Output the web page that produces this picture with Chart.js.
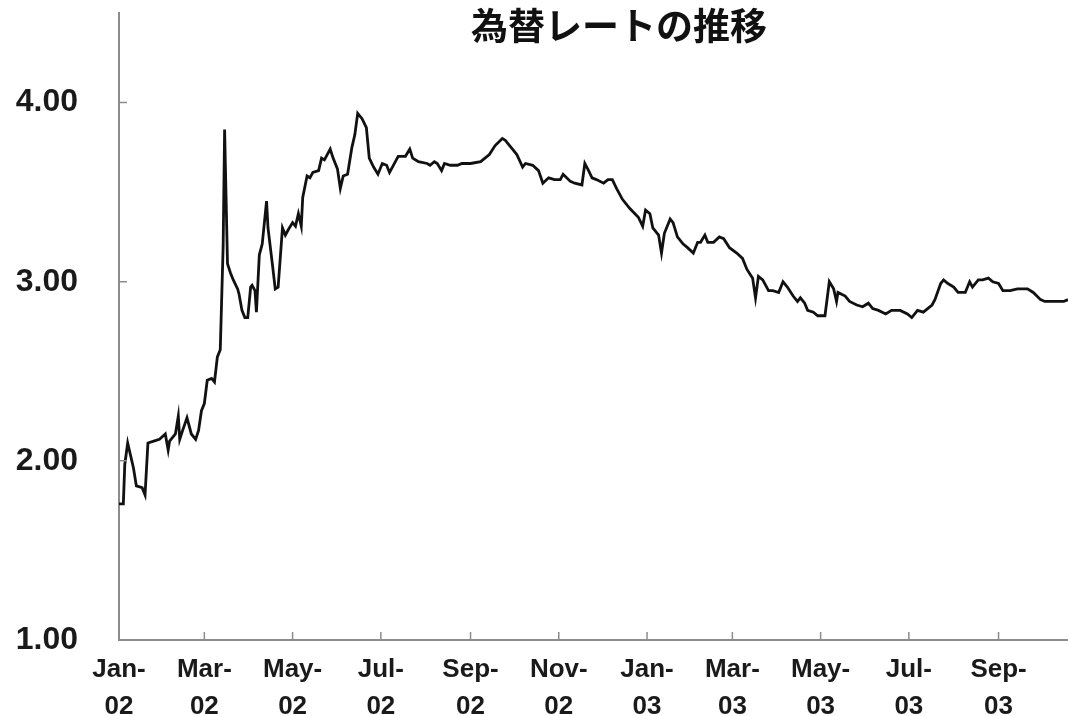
<!DOCTYPE html>
<html>
<head>
<meta charset="utf-8">
<script src="https://cdn.jsdelivr.net/npm/chart.js@4/dist/chart.umd.min.js"></script>
<style>
  html, body { margin: 0; padding: 0; background: #fff; overflow: hidden; }
  #wrap { position: relative; width: 1068px; height: 716px; }
</style>
</head>
<body>
<div id="wrap"><canvas id="c"></canvas></div>
<script>
// Days since 1 Jan 2002 and exchange rate values
const days = [0,3,4,6,10,12,16,18,20,24,28,32,34,35,39,41,42,44,47,50,53,55,57,59,61,64,66,68,70,72,73,75,77,79,82,83,85,87,89,91,92,94,95,97,99,102,103,106,108,110,113,115,117,120,122,124,126,127,130,132,134,138,140,142,146,148,151,153,155,158,161,163,165,168,171,173,176,179,182,185,187,189,193,198,201,203,207,213,215,218,220,223,225,229,234,237,243,250,253,256,260,265,267,269,272,275,279,281,286,290,293,297,301,305,307,312,315,320,322,324,327,330,335,338,341,344,348,353,359,362,364,367,369,373,375,377,381,383,386,390,393,397,400,402,405,407,411,415,418,422,427,431,434,438,440,442,445,449,452,456,459,462,466,469,471,474,476,480,483,488,491,494,496,497,502,505,510,514,518,521,525,530,534,540,545,548,552,556,559,562,564,568,570,573,577,580,585,588,590,594,597,601,604,608,611,616,621,625,628,632,637,640,645,649,653,656];
const rates = [1.76,1.76,1.98,2.10,1.96,1.86,1.85,1.81,2.10,2.11,2.12,2.15,2.06,2.11,2.15,2.25,2.12,2.17,2.24,2.15,2.12,2.17,2.28,2.32,2.45,2.46,2.44,2.58,2.62,3.20,3.85,3.10,3.05,3.01,2.96,2.93,2.84,2.80,2.80,2.97,2.98,2.95,2.83,3.15,3.21,3.45,3.30,3.10,2.96,2.97,3.30,3.26,3.29,3.33,3.31,3.38,3.31,3.47,3.59,3.58,3.61,3.62,3.69,3.68,3.74,3.69,3.63,3.52,3.59,3.60,3.75,3.82,3.94,3.91,3.86,3.69,3.64,3.60,3.66,3.65,3.61,3.64,3.70,3.70,3.74,3.69,3.67,3.66,3.65,3.67,3.66,3.62,3.66,3.65,3.65,3.66,3.66,3.67,3.69,3.71,3.76,3.80,3.79,3.77,3.74,3.71,3.64,3.66,3.65,3.62,3.55,3.58,3.57,3.57,3.60,3.56,3.55,3.54,3.66,3.63,3.58,3.57,3.55,3.57,3.57,3.52,3.46,3.41,3.36,3.31,3.40,3.38,3.30,3.26,3.16,3.27,3.35,3.33,3.25,3.21,3.19,3.16,3.22,3.22,3.26,3.22,3.22,3.25,3.24,3.19,3.16,3.13,3.07,3.02,2.91,3.03,3.01,2.95,2.95,2.94,3.00,2.97,2.92,2.89,2.91,2.88,2.84,2.83,2.81,2.81,3.00,2.96,2.89,2.94,2.92,2.89,2.87,2.86,2.88,2.85,2.84,2.82,2.84,2.84,2.82,2.80,2.84,2.83,2.85,2.87,2.90,2.99,3.01,2.99,2.97,2.94,2.94,3.00,2.97,3.01,3.01,3.02,3.00,2.99,2.95,2.95,2.96,2.96,2.96,2.94,2.90,2.89,2.89,2.89,2.89,2.90];

// X tick positions (days since 1 Jan 2002) and labels
const monthTickDays = [0,59,120,181,243,304,365,424,485,546,608];
const monthTickLabels = [["Jan-","02"],["Mar-","02"],["May-","02"],["Jul-","02"],["Sep-","02"],["Nov-","02"],["Jan-","03"],["Mar-","03"],["May-","03"],["Jul-","03"],["Sep-","03"]];
const yTickValues = [1,2,3,4];
const titleText = "為替レートの推移";

const points = days.map((d, i) => ({x: d, y: rates[i]}));

const AXIS_COLOR = '#8c8c8c';

const innerTicks = {
  id: 'innerTicks',
  afterDatasetsDraw(chart) {
    const {ctx, chartArea, scales} = chart;
    ctx.save();
    ctx.strokeStyle = AXIS_COLOR;
    ctx.lineWidth = 1.5;
    ctx.beginPath();
    scales.x.ticks.forEach(t => {
      const px = scales.x.getPixelForValue(t.value);
      ctx.moveTo(px, chartArea.bottom);
      ctx.lineTo(px, chartArea.bottom - 8);
    });
    scales.y.ticks.forEach(t => {
      const py = scales.y.getPixelForValue(t.value);
      ctx.moveTo(chartArea.left, py);
      ctx.lineTo(chartArea.left + 8, py);
    });
    ctx.stroke();
    ctx.restore();
  }
};

const titleOverlay = {
  id: 'titleOverlay',
  afterDraw(chart) {
    const {ctx, chartArea} = chart;
    ctx.save();
    ctx.font = "bold 37px 'Noto Sans CJK JP', sans-serif";
    ctx.fillStyle = '#111';
    ctx.textAlign = 'center';
    ctx.textBaseline = 'middle';
    ctx.fillText(titleText, chartArea.left + (chartArea.right - chartArea.left) * 0.527, 26);
    ctx.restore();
  }
};

new Chart(document.getElementById('c'), {
  type: 'line',
  data: {
    datasets: [{
      data: points,
      borderColor: '#111',
      borderWidth: 2.8,
      pointRadius: 0,
      tension: 0,
      fill: false
    }]
  },
  options: {
    responsive: true,
    maintainAspectRatio: false,
    animation: false,
    devicePixelRatio: 1,
    layout: { padding: { top: 13, right: 0, left: 0, bottom: 0 } },
    plugins: { legend: { display: false }, tooltip: { enabled: false }, title: { display: false } },
    scales: {
      x: {
        type: 'linear',
        min: 0,
        max: 656,
        grid: { display: false, drawTicks: false },
        border: { display: true, color: AXIS_COLOR, width: 2 },
        afterBuildTicks: (scale) => { scale.ticks = monthTickDays.map(v => ({value: v})); },
        afterFit: (scale) => { scale.height = 76; },
        ticks: {
          autoSkip: false,
          maxRotation: 0,
          padding: 11,
          color: '#1a1a1a',
          font: { family: "'Liberation Sans', Arial, sans-serif", size: 26, weight: 'bold', lineHeight: 1.42 },
          callback: (value) => {
            const i = monthTickDays.indexOf(value);
            return i >= 0 ? monthTickLabels[i] : '';
          }
        }
      },
      y: {
        type: 'linear',
        min: 1,
        max: 4.5,
        grid: { display: true, color: 'rgba(0,0,0,0)', drawTicks: true, tickLength: 41 },
        border: { display: true, color: AXIS_COLOR, width: 2 },
        afterBuildTicks: (scale) => { scale.ticks = yTickValues.map(v => ({value: v})); },
        afterFit: (scale) => { scale.width = 119; },
        ticks: {
          padding: 0,
          color: '#1a1a1a',
          font: { family: "'Liberation Sans', Arial, sans-serif", size: 32, weight: 'bold', lineHeight: 0.6 },
          callback: (v) => Number(v).toFixed(2)
        }
      }
    }
  },
  plugins: [innerTicks, titleOverlay]
});
</script>
</body>
</html>
